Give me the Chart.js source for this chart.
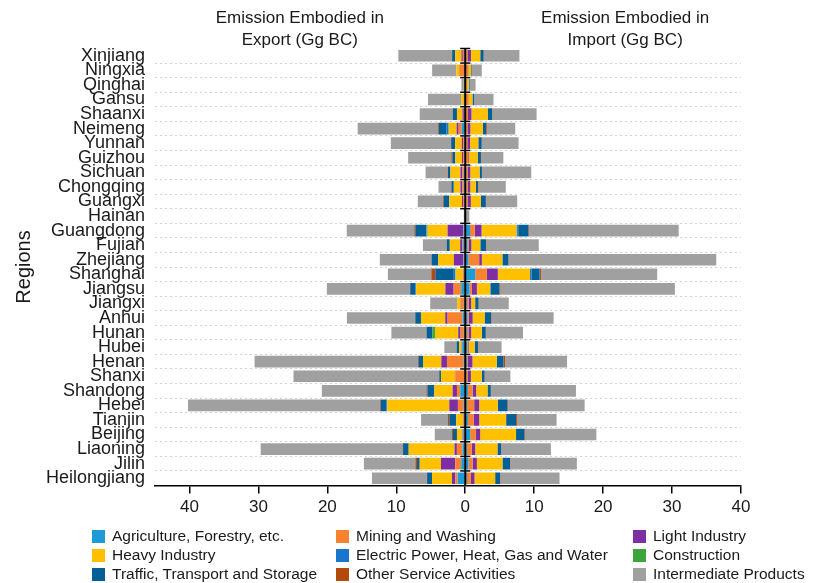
<!DOCTYPE html>
<html>
<head>
<meta charset="utf-8">
<script src="https://cdn.jsdelivr.net/npm/chart.js@4"></script>
<style>
  html, body { margin: 0; padding: 0; background: #fff; }
  #wrap { position: relative; width: 813px; height: 583px; font-family: "Liberation Sans", Arial, sans-serif; }
  canvas { position: absolute; left: 0; top: 0; }
  .lg { position: absolute; display: flex; align-items: center; font-size: 15.5px; color: #1a1a1a; white-space: nowrap; }
  .lg i { display: inline-block; width: 13px; height: 13px; margin-right: 7px; }
</style>
</head>
<body>
<div id="wrap">
  <canvas id="c" width="813" height="583"></canvas>
  <div id="legend"></div>
</div>
<script>
// ---------- DATA (Gg BC) ----------
const regions = ["Xinjiang","Ningxia","Qinghai","Gansu","Shaanxi","Neimeng","Yunnan","Guizhou","Sichuan","Chongqing","Guangxi","Hainan","Guangdong","Fujian","Zhejiang","Shanghai","Jiangsu","Jiangxi","Anhui","Hunan","Hubei","Henan","Shanxi","Shandong","Hebei","Tianjin","Beijing","Liaoning","Jilin","Heilongjiang"];

const sectorNames = ["Agriculture, Forestry, etc.","Mining and Washing","Light Industry","Heavy Industry","Electric Power, Heat, Gas and Water","Construction","Traffic, Transport and Storage","Other Service Activities","Intermediate Products"];
const sectorColors = ["#1e9bd7","#f7822f","#7d2fa2","#ffc000","#1a75cf","#3ca63c","#045f96","#b5490c","#a0a0a0"];

// Emission embodied in export (drawn to the left)
const expAgriculture = [0.1,0.05,0.05,0.05,0.05,0.5,0.1,0.1,0.2,0.2,0.1,0.05,0.25,0.3,0.25,0.1,0.58,0.2,0.39,0.2,0.45,0.24,0.1,0.72,0.24,0.1,0.3,0.39,0.58,1.1];
const expMining      = [0.25,0.72,0.05,0.1,0.15,0.45,0.2,0.2,0.2,0.2,0.2,0,0.05,0.1,0.05,0.05,1.1,0.48,2.17,0.48,0.1,2.41,1.35,0.48,0.82,0.07,0.1,0.82,0.87,0.34];
const expLight       = [0.2,0.05,0,0.05,0.2,0.3,0.2,0.18,0.3,0.3,0.18,0,2.26,0.34,1.35,0.1,1.2,0.05,0.34,0.34,0.05,0.82,0.05,0.63,1.25,0.07,0.08,0.34,2.07,0.48];
const expHeavy       = [0.9,0.48,0.1,0.4,0.8,1.15,0.96,0.96,1.45,0.96,1.83,0,2.9,1.5,2.26,1.16,4.24,0.4,3.52,3.37,0.3,2.65,2.02,2.65,9.0,1.06,0.72,6.65,3.08,2.89];
const expElectric    = [0,0,0,0,0,0.3,0,0,0,0,0,0,0.15,0,0,0.25,0.1,0,0,0,0,0,0,0,0.1,0,0,0,0,0];
const expConstruct   = [0,0,0,0,0,0,0,0,0,0,0,0,0.05,0,0,0,0,0.05,0,0.39,0,0,0,0,0,0,0,0,0,0];
const expTraffic     = [0.45,0,0,0.05,0.6,1.15,0.58,0.43,0.35,0.34,0.82,0,1.58,0.43,0.96,2.68,0.76,0,0.82,0.82,0.35,0.63,0.24,1.01,0.86,1.01,0.58,0.82,0.39,0.72];
const expOther       = [0.05,0,0,0,0.05,0.15,0.05,0.15,0.05,0.05,0.15,0,0.15,0.05,0.05,0.58,0.05,0.05,0.05,0.05,0,0.1,0.05,0.14,0.14,0.19,0.14,0.05,0.24,0.05];
const expIntermediate= [7.75,3.5,0.35,4.75,4.75,11.6,8.7,6.26,3.2,1.83,3.6,0.15,9.8,3.42,7.47,6.3,12.04,3.85,9.87,5.06,1.78,23.7,21.1,15.17,27.8,3.9,2.5,20.6,7.47,7.95];

// Emission embodied in import (drawn to the right)
const impAgriculture = [0.15,0.05,0.05,0.1,0.1,0.15,0.1,0.1,0.15,0.15,0.15,0.05,0.7,0.3,0.48,1.45,0.63,0.2,0.3,0.2,0.3,0.24,0.15,0.39,0.24,0.39,0.72,0.24,0.48,0.24];
const impMining      = [0.25,0.4,0.05,0.4,0.3,0.25,0.2,0.3,0.24,0.24,0.24,0,0.67,0.2,1.54,1.69,0.34,0.28,0.2,0.28,0.1,0.14,0.24,0.67,1.06,0.82,0.82,0.72,0.58,0.58];
const impLight       = [0.43,0.05,0.05,0.05,0.5,0.34,0.4,0.1,0.34,0.34,0.43,0,1.0,0.39,0.39,1.59,0.72,0.38,0.58,0.38,0.1,0.67,0.43,0.53,0.72,0.82,0.63,0.48,0.63,0.53];
const impHeavy       = [1.35,0.35,0.35,0.5,2.35,1.83,1.2,1.3,1.35,0.82,1.45,0,5.06,1.3,2.98,4.67,1.93,0.58,1.73,1.54,0.87,3.52,1.59,1.64,2.7,3.9,5.2,3.23,3.71,2.99];
const impElectric    = [0,0,0.1,0,0,0,0,0,0,0,0,0,0.2,0,0,0.2,0.1,0,0,0,0,0,0,0,0,0,0,0,0,0];
const impConstruct   = [0,0,0,0,0,0,0,0,0,0,0,0,0.05,0,0,0,0,0,0,0,0,0,0,0,0,0,0,0,0,0];
const impTraffic     = [0.48,0.1,0.1,0.25,0.65,0.48,0.48,0.48,0.34,0.3,0.72,0,1.48,0.82,0.87,1.19,1.25,0.48,0.96,0.58,0.48,0.96,0.39,0.48,1.4,1.45,1.2,0.53,1.11,0.72];
const impOther       = [0.05,0,0,0,0.05,0.15,0.05,0.05,0.05,0.08,0.05,0,0.1,0.05,0.05,0.19,0.14,0.05,0.05,0.05,0.05,0.24,0.05,0.05,0.1,0.19,0.1,0.05,0.05,0.05];
const impIntermediate= [5.15,1.45,0.8,2.8,6.4,4.05,5.3,3.2,7.1,3.95,4.5,0.55,21.7,7.6,30.1,16.86,25.3,4.34,9.0,5.35,3.37,9.0,3.7,12.3,11.1,5.68,10.35,7.18,9.63,8.57];

const xTickValues = [-40,-30,-20,-10,0,10,20,30,40];

// ---------- BUILD ----------
const exportSeries = [expAgriculture,expMining,expLight,expHeavy,expElectric,expConstruct,expTraffic,expOther,expIntermediate];
const importSeries = [impAgriculture,impMining,impLight,impHeavy,impElectric,impConstruct,impTraffic,impOther,impIntermediate];

const FONT = '"Liberation Sans", Arial, sans-serif';
const datasets = [];
sectorNames.forEach((name, k) => {
  datasets.push({ label: name + " (export)", data: exportSeries[k].map(v => -v), backgroundColor: sectorColors[k], stack: "s", borderWidth: 0 });
  datasets.push({ label: name + " (import)", data: importSeries[k], backgroundColor: sectorColors[k], stack: "s", borderWidth: 0 });
});

const centerLine = {
  id: "centerLine",
  afterDatasetsDraw(chart) {
    const { ctx, chartArea, scales } = chart;
    const x = scales.x.getPixelForValue(0);
    const n = regions.length;
    const step = (chartArea.bottom - chartArea.top) / n;
    ctx.save();
    ctx.strokeStyle = "#000";
    ctx.lineWidth = 2;
    ctx.beginPath();
    ctx.moveTo(x, chartArea.top);
    ctx.lineTo(x, chartArea.bottom);
    ctx.stroke();
    ctx.lineWidth = 1.5;
    for (let i = 0; i < n; i++) {
      const y = chartArea.top + i * step;
      ctx.beginPath();
      ctx.moveTo(x - 5, y);
      ctx.lineTo(x + 5, y);
      ctx.stroke();
    }
    ctx.restore();
  }
};

const headTitles = {
  id: "headTitles",
  afterDraw(chart) {
    const { ctx, scales } = chart;
    ctx.save();
    ctx.fillStyle = "#1a1a1a";
    ctx.font = "17px " + FONT;
    ctx.textAlign = "center";
    ctx.textBaseline = "middle";
    const xl = scales.x.getPixelForValue(-24);
    const xr = scales.x.getPixelForValue(23.2);
    ctx.fillText("Emission Embodied in", xl, 18);
    ctx.fillText("Export (Gg BC)", xl, 40);
    ctx.fillText("Emission Embodied in", xr, 18);
    ctx.fillText("Import (Gg BC)", xr, 40);
    ctx.restore();
  }
};

new Chart(document.getElementById("c"), {
  type: "bar",
  data: { labels: regions, datasets },
  options: {
    indexAxis: "y",
    responsive: false,
    animation: false,
    layout: { padding: { top: 48.5, right: 72, bottom: 57.5, left: 0 } },
    datasets: { bar: { categoryPercentage: 1.0, barPercentage: 0.8 } },
    plugins: { legend: { display: false }, tooltip: { enabled: false } },
    scales: {
      x: {
        stacked: true,
        min: -45, max: 40,
        afterBuildTicks(scale) { scale.ticks = xTickValues.map(v => ({ value: v })); },
        afterFit(scale) { scale.height = 40; },
        ticks: { callback: v => String(Math.abs(v)), font: { size: 17, family: FONT }, color: "#1a1a1a", padding: 4 },
        grid: { drawOnChartArea: false, drawTicks: true, tickLength: 8, color: "#000", lineWidth: 1.5 },
        border: { display: true, color: "#000", width: 1.5 }
      },
      y: {
        stacked: true,
        afterFit(scale) { scale.width = 155; },
        ticks: { font: { size: 18, family: FONT }, color: "#1a1a1a", padding: 10, autoSkip: false },
        grid: { offset: true, drawTicks: false, color: ctx => (ctx.index === 0 || ctx.index === regions.length) ? "rgba(0,0,0,0)" : "#d2d2d2", lineWidth: 1 },
        border: { display: false, dash: [2, 3] },
        title: { display: true, text: "Regions", font: { size: 20, family: FONT }, color: "#1a1a1a", padding: { top: 12, bottom: 0 } }
      }
    }
  },
  plugins: [centerLine, headTitles]
});

// ---------- HTML legend (3 x 3) ----------
const legendOrder = [0,1,2,3,4,5,6,7,8];
const colX = [92, 336, 633];
const rowY = [536, 555, 574];
const lg = document.getElementById("legend");
legendOrder.forEach((k, idx) => {
  const r = Math.floor(idx / 3), c = idx % 3;
  const d = document.createElement("div");
  d.className = "lg";
  d.style.left = colX[c] + "px";
  d.style.top = (rowY[r] - 10) + "px";
  d.style.height = "20px";
  d.innerHTML = '<i style="background:' + sectorColors[k] + '"></i>' + sectorNames[k];
  lg.appendChild(d);
});
</script>
</body>
</html>
